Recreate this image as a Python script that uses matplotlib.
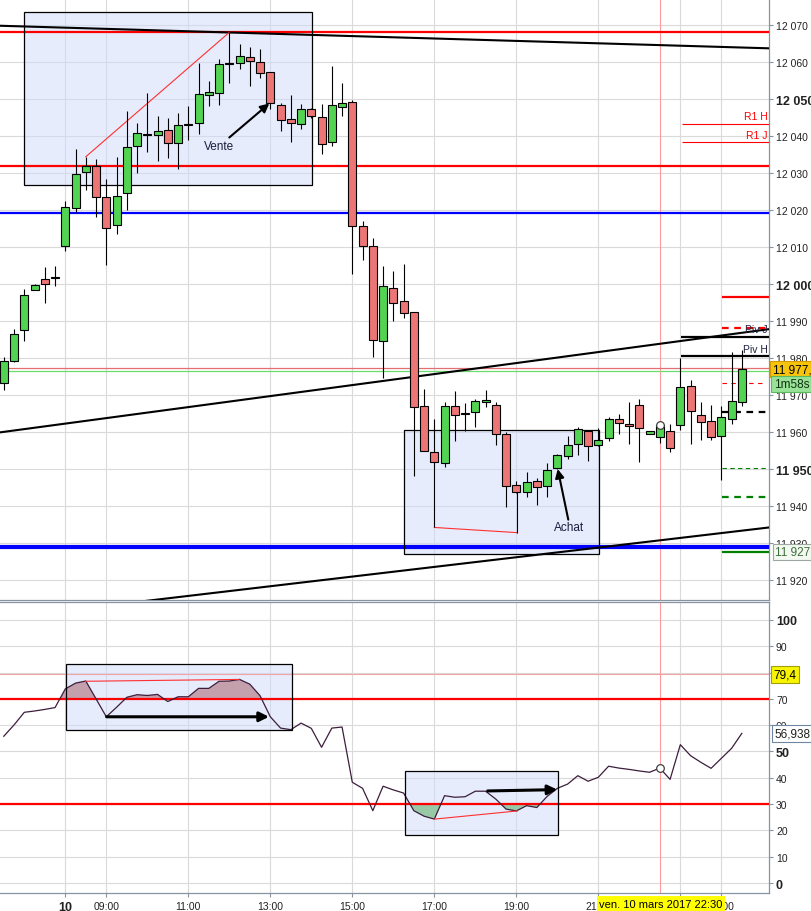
import matplotlib
matplotlib.use("Agg")
import matplotlib.pyplot as plt
import matplotlib.transforms as mtransforms
from matplotlib.patches import Rectangle
import numpy as np

plt.rcParams["font.family"] = ["Liberation Sans", "DejaVu Sans"]

# 15-minute DAX candles; bar index 0 = 08:00 on the 10th, first bar is 06:30
FIRST_BAR = -6
OPENS = [11973.2, 11979.3, 11987.6, 11998.5, 12001.4, 12001.6, 12010.4, 12020.5,
         12030.2, 12032.0, 12023.4, 12015.9, 12024.5, 12037.4, 12040.4, 12040.2,
         12041.5, 12038.2, 12043.1, 12043.4, 12051.0, 12051.5, 12059.4, 12059.6,
         12061.3, 12059.9, 12057.2, 12048.5, 12044.5, 12043.2, 12047.2, 12045.1,
         12038.3, 12047.9, 12049.1, 12015.8, 12010.4, 11984.5, 11998.8, 11995.3,
         11992.4, 11966.9, 11954.5, 11951.6, 11967.1, 11964.9, 11965.3, 11968.0,
         11967.4, 11959.5, 11945.8, 11943.9, 11946.7, 11945.3, 11950.2, 11953.4,
         11956.8, 11960.3, 11956.5, 11958.3, 11963.4, 11962.1, 11967.2, 11959.4,
         11958.6, 11960.4, 11962.0, 11972.4, 11964.5, 11962.9, 11958.8, 11963.5,
         11968.0]
HIGHS = [11980.3, 11987.8, 11998.6, 12000.0, 12004.7, 12004.9, 12022.5, 12036.5,
         12034.2, 12033.8, 12028.4, 12034.3, 12046.8, 12043.4, 12051.6, 12045.3,
         12044.9, 12046.1, 12048.0, 12059.7, 12054.9, 12060.7, 12068.0, 12064.9,
         12064.0, 12063.5, 12057.2, 12048.8, 12051.0, 12048.6, 12047.5, 12048.6,
         12058.8, 12054.2, 12049.6, 12017.0, 12012.4, 12005.0, 12003.5, 12005.4,
         11992.4, 11971.6, 11963.5, 11968.1, 11971.1, 11967.8, 11968.9, 11971.4,
         11968.2, 11960.0, 11946.8, 11949.3, 11947.6, 11951.6, 11954.1, 11959.0,
         11961.3, 11960.5, 11961.1, 11964.0, 11964.9, 11968.0, 11968.9, 11960.4,
         11962.6, 11962.2, 11980.0, 11974.1, 11968.0, 11967.3, 11967.1, 11981.5,
         11982.2]
LOWS = [11971.4, 11979.0, 11984.5, 11998.3, 11994.8, 11999.4, 12008.8, 12019.4,
        12025.5, 12018.2, 12005.2, 12013.6, 12020.1, 12030.1, 12035.7, 12033.3,
        12034.1, 12031.2, 12039.0, 12040.6, 12048.0, 12048.3, 12054.2, 12058.2,
        12053.6, 12055.6, 12047.3, 12041.4, 12038.5, 12042.0, 12045.0, 12035.1,
        12037.2, 12045.3, 12002.8, 12006.6, 11980.4, 11974.5, 11989.9, 11990.9,
        11948.2, 11954.8, 11951.5, 11950.5, 11957.6, 11960.4, 11961.3, 11966.7,
        11956.6, 11939.6, 11943.5, 11942.4, 11940.4, 11942.5, 11950.0, 11952.7,
        11953.9, 11952.2, 11956.3, 11957.6, 11959.5, 11956.8, 11952.0, 11959.4,
        11956.9, 11954.7, 11960.6, 11956.8, 11957.9, 11957.9, 11947.1, 11962.2,
        11966.9]
CLOSES = [11979.1, 11986.4, 11997.0, 11999.7, 11999.9, 12001.9, 12020.7, 12029.7,
          12032.0, 12023.4, 12015.1, 12023.7, 12036.9, 12040.7, 12040.6, 12041.3,
          12038.2, 12042.9, 12043.3, 12051.3, 12051.8, 12059.4, 12059.6, 12061.5,
          12060.2, 12057.0, 12048.8, 12044.2, 12043.4, 12047.2, 12045.3, 12037.8,
          12048.3, 12048.8, 12015.6, 12010.2, 11984.8, 11999.4, 11994.8, 11992.2,
          11966.7, 11954.8, 11951.8, 11967.1, 11964.6, 11965.1, 11968.5, 11968.6,
          11959.4, 11945.5, 11943.7, 11946.4, 11945.1, 11949.6, 11953.7, 11956.4,
          11960.9, 11956.1, 11957.9, 11963.4, 11962.4, 11961.5, 11961.0, 11960.4,
          11962.0, 11955.6, 11972.1, 11965.8, 11962.6, 11958.6, 11964.0, 11968.5,
          11977.0]
RSI = [55.8, 60.1, 64.9, 65.4, 66.0, 66.7, 73.8, 76.0, 76.8, 70.0, 63.2, 66.8,
       70.6, 71.6, 71.3, 71.7, 69.0, 70.8, 70.8, 74.0, 74.0, 76.7, 76.8, 77.4,
       75.6, 71.2, 63.2, 58.9, 58.3, 60.8, 58.8, 51.6, 58.9, 59.3, 38.3, 36.0,
       27.5, 36.8, 35.4, 34.2, 27.5, 25.4, 24.3, 33.2, 32.6, 32.8, 34.9, 34.9,
       31.9, 28.1, 27.4, 29.4, 28.7, 32.9, 36.0, 37.6, 40.8, 38.7, 40.2, 44.4,
       43.7, 43.2, 42.6, 42.1, 43.7, 39.4, 52.6, 48.4, 45.9, 43.6, 47.4, 51.2,
       56.9]

TIME_HOURS = [8, 9, 11, 13, 15, 17, 19, 21, 23, 24]
TIME_LABELS = ["10", "09:00", "11:00", "13:00", "15:00", "17:00", "19:00",
               "21:00", "23:00", "00:00"]
PRICE_TICKS = list(range(11920, 12071, 10))
BOLD_PRICES = [12050, 12000, 11950]
RSI_TICKS = list(range(0, 101, 10))
BOLD_RSI = [100, 50, 0]

# drawn levels and trendlines (price)
RED_LEVELS = [12068.1, 12032.0]
BLUE_LEVEL = 12019.3
BLUE_SUPPORT = 11929.0
BID_LEVEL, ASK_LEVEL = 11976.4, 11977.4
TOP_TREND = [(-6.37, 12069.8), (68.65, 12063.7)]
MID_TREND = [(-6.37, 11959.9), (68.65, 11987.8)]
LOW_TREND = [(-6.37, 11909.7), (68.65, 11934.2)]
CURSOR_BAR = 58
LAST_PRICE = 11977.0
RSI_LAST = 56.938
RSI_MARK = 79.4

W, H = 811, 912
GREEN, RED = "#52d452", "#ec7676"
GRID = "#dadada"
SPINE = "#8593a2"
XMIN, XMAX = -6.37, 68.65

fig = plt.figure(figsize=(W / 100, H / 100), dpi=100)
ax = fig.add_axes([0, 1 - 600.5 / H, 769 / W, 600.5 / H])
ax_rsi = fig.add_axes([0, 1 - 894 / H, 769 / W, (894 - 603) / H], sharex=ax)

x = np.arange(FIRST_BAR, FIRST_BAR + len(CLOSES))
o, hi, lo, c = (np.array(v) for v in (OPENS, HIGHS, LOWS, CLOSES))
rsi = np.array(RSI)
xticks = [(h - 8) * 4 for h in TIME_HOURS]

for a in (ax, ax_rsi):
    a.set_axisbelow(True)
    a.grid(True, color=GRID, lw=0.8)
    a.yaxis.tick_right()
    a.tick_params(axis="y", length=3, width=0.8, color=SPINE, pad=2,
                  labelsize=7.5, labelcolor="#222222")
    for s in ("left",):
        a.spines[s].set_visible(False)
    for s in ("right", "top", "bottom"):
        a.spines[s].set_color(SPINE)
        a.spines[s].set_linewidth(0.9)
ax.spines["top"].set_visible(False)

ax.set_xlim(XMIN, XMAX)
ax.set_xticks(xticks)
ax.tick_params(axis="x", labelbottom=False, length=0)
ax_rsi.set_xticks(xticks, TIME_LABELS)
ax_rsi.tick_params(axis="x", length=3, color=SPINE, pad=2.5, labelsize=7.5,
                   labelcolor="#222222")
for lab in ax_rsi.get_xticklabels():
    if lab.get_text() == "10":
        lab.set_fontweight("bold")
        lab.set_fontsize(9)

# ---------------- price pane ----------------
ax.set_ylim(11914.73, 12077.03)
ax.set_yticks(PRICE_TICKS, [f"{p:,}".replace(",", " ") for p in PRICE_TICKS])
for lab, p in zip(ax.get_yticklabels(), PRICE_TICKS):
    if p in BOLD_PRICES:
        lab.set_fontweight("bold")
        lab.set_fontsize(9)

box_kw = dict(facecolor="#cfdbfa", alpha=0.5, edgecolor="none", zorder=1)
for (x0, y0, x1, y1) in [(-4.0, 12026.8, 24.04, 12073.4), (33.07, 11926.9, 52.1, 11960.5)]:
    ax.add_patch(Rectangle((x0, y0), x1 - x0, y1 - y0, **box_kw))
    ax.add_patch(Rectangle((x0, y0), x1 - x0, y1 - y0, fill=False,
                           edgecolor="black", lw=0.9, zorder=6))

for lvl in RED_LEVELS:
    ax.axhline(lvl, color="#ff0000", lw=1.6, zorder=5)
ax.axhline(BLUE_LEVEL, color="#0000ff", lw=1.6, zorder=5)
ax.axhline(BLUE_SUPPORT, color="#0000ff", lw=3.0, zorder=5)
ax.axhline(ASK_LEVEL, color="#e07070", lw=0.9, zorder=5)
ax.axhline(BID_LEVEL, color="#6cdc6c", lw=0.9, zorder=5)
for line in (TOP_TREND, MID_TREND, LOW_TREND):
    (xa, ya), (xb, yb) = line
    ax.plot([xa, xb], [ya, yb], color="black", lw=1.5, zorder=5)

for a in (ax, ax_rsi):
    a.axvline(CURSOR_BAR, color="#ff9a9a", lw=0.8, zorder=2)

# candles
ax.vlines(x, lo, hi, color="black", lw=0.8, zorder=7)
body_lo = np.minimum(o, c)
body_h = np.maximum(np.abs(c - o), 0.25)
ax.bar(x, body_h, bottom=body_lo, width=0.78,
       color=np.where(c >= o, GREEN, RED), edgecolor="black", lw=0.8, zorder=8)

# pivot / resistance stubs at the right
ax.hlines(11996.6, 64.07, XMAX, color="#ff0000", lw=1.6, zorder=5)
ax.hlines(11988.1, 64.07, XMAX, color="#ff0000", lw=1.6, linestyles=(0, (3, 2.5)), zorder=5)
ax.hlines(11985.8, 60.07, XMAX, color="black", lw=1.6, zorder=5)
ax.hlines(11980.5, 60.07, XMAX, color="black", lw=1.6, zorder=5)
ax.hlines(11973.3, 64.07, 68.3, color="#ff0000", lw=0.8, linestyles=(0, (4, 4)), zorder=5)
ax.hlines(11965.5, 64.07, XMAX, color="black", lw=1.6, linestyles=(0, (3, 2.5)), zorder=5)
ax.hlines(11950.4, 64.07, XMAX, color="#008000", lw=0.8, linestyles=(0, (4, 3)), zorder=5)
ax.hlines(11942.5, 64.07, XMAX, color="#008000", lw=1.6, linestyles=(0, (3, 2.5)), zorder=5)
ax.hlines(11927.6, 64.07, XMAX, color="#008000", lw=1.6, zorder=5)
ax.hlines(12043.2, 60.17, XMAX, color="#ff0000", lw=0.8, zorder=5)
ax.hlines(12038.3, 60.17, XMAX, color="#ff0000", lw=0.8, zorder=5)
for txt, yv, col in [("R1 H", 12045.4, "#ff0000"), ("R1 J", 12040.4, "#ff0000"),
                     ("Piv J", 11987.9, "#202040"), ("Piv H", 11982.5, "#202040")]:
    ax.text(68.5, yv, txt, ha="right", va="center", fontsize=7.5, color=col, zorder=9)

# divergence annotations
ax.plot([2, 16], [12034.4, 12068.0], color="#ff3030", lw=0.8, zorder=6)
ax.plot([36, 44.1], [11934.2, 11932.8], color="#ff3030", lw=0.8, zorder=6)
ax.vlines([36, 44.1], [11934.2, 11932.8], [11951.8, 11943.7], color="black", lw=0.8, zorder=6)
arrow = dict(arrowstyle="-|>", color="black", lw=1.5, mutation_scale=13,
             shrinkA=0, shrinkB=0)
ax.annotate("", xy=(19.9, 12048.8), xytext=(16.0, 12039.6), arrowprops=arrow, zorder=9)
ax.annotate("", xy=(48.04, 11950.0), xytext=(49.07, 11936.3), arrowprops=arrow, zorder=9)
ax.text(15.0, 12037.4, "Vente", ha="center", va="center", fontsize=8.5, color="#1c1c3c", zorder=9)
ax.text(49.1, 11934.4, "Achat", ha="center", va="center", fontsize=8.5, color="#1c1c3c", zorder=9)
ax.plot([CURSOR_BAR], [c[CURSOR_BAR - FIRST_BAR]], "o", ms=5.5, mfc="white",
        mec="#404040", mew=0.9, zorder=10)

tr = mtransforms.blended_transform_factory(ax.transAxes, ax.transData)
ax.text(1.005, LAST_PRICE, f"{LAST_PRICE:,.0f},".replace(",", " ", 1), transform=tr,
        ha="left", va="center", fontsize=8.5, color="black", zorder=12, clip_on=False,
        bbox=dict(boxstyle="square,pad=0.2", fc="#f6c40c", ec="#d29a00", lw=0.8))
ax.text(1.006, 11973.0, "1m58s", transform=tr, ha="left", va="center", fontsize=8.5,
        color="#103010", zorder=12, clip_on=False,
        bbox=dict(boxstyle="square,pad=0.2", fc="#98e298", ec="#5cb85c", lw=0.8))
ax.text(1.008, 11927.6, "11 927,", transform=tr, ha="left", va="center", fontsize=8.5,
        color="#3a6e3a", zorder=12, clip_on=False,
        bbox=dict(boxstyle="square,pad=0.2", fc="#f3f8f0", ec="#9aa8a0", lw=0.8))

# ---------------- RSI pane ----------------
ax_rsi.set_ylim(-3.8, 106.84)
ax_rsi.set_yticks(RSI_TICKS)
for lab, v in zip(ax_rsi.get_yticklabels(), RSI_TICKS):
    if v in BOLD_RSI:
        lab.set_fontweight("bold")
        lab.set_fontsize(9)

for (x0, y0, x1, y1) in [(0.04, 58.1, 22.1, 83.2), (33.1, 18.1, 48.1, 42.5)]:
    ax_rsi.add_patch(Rectangle((x0, y0), x1 - x0, y1 - y0, **box_kw))
    ax_rsi.add_patch(Rectangle((x0, y0), x1 - x0, y1 - y0, fill=False,
                               edgecolor="black", lw=0.9, zorder=6))
ax_rsi.fill_between(x, rsi, 70, where=(rsi > 70) & (x <= 21), interpolate=True,
                    color="#c4a0ad", lw=0, zorder=2)
ax_rsi.fill_between(x, rsi, 30, where=(rsi < 30) & (x >= 33) & (x <= 48),
                    interpolate=True, color="#98c8a6", lw=0, zorder=2)
ax_rsi.axhline(70, color="#ff0000", lw=1.6, zorder=4)
ax_rsi.axhline(30, color="#ff0000", lw=1.6, zorder=4)
ax_rsi.axhline(RSI_MARK, color="#f4a4a4", lw=0.8, zorder=3)
ax_rsi.plot(x, rsi, color="#3c1e3c", lw=0.9, zorder=5)
ax_rsi.plot([1.96, 16.95], [76.7, 77.4], color="#ff3030", lw=0.8, zorder=6)
ax_rsi.plot([36.03, 44.1], [24.3, 27.4], color="#ff3030", lw=0.8, zorder=6)
thick = dict(arrowstyle="-|>", color="black", lw=2.2, mutation_scale=14,
             shrinkA=0, shrinkB=0)
ax_rsi.annotate("", xy=(19.87, 63.2), xytext=(4.03, 63.2), arrowprops=thick, zorder=9)
ax_rsi.annotate("", xy=(48.0, 35.5), xytext=(41.2, 35.0), arrowprops=thick, zorder=9)
ax_rsi.plot([CURSOR_BAR], [rsi[CURSOR_BAR - FIRST_BAR]], "o", ms=5.5, mfc="white",
            mec="#404040", mew=0.9, zorder=10)

tr2 = mtransforms.blended_transform_factory(ax_rsi.transAxes, ax_rsi.transData)
ax_rsi.text(1.006, RSI_MARK, f"{RSI_MARK}".replace(".", ","), transform=tr2,
            ha="left", va="center", fontsize=8.5, color="black", zorder=12, clip_on=False,
            bbox=dict(boxstyle="square,pad=0.2", fc="#f8f400", ec="#a0a000", lw=0.8))
ax_rsi.text(1.007, RSI_LAST, f"{RSI_LAST}".replace(".", ","), transform=tr2,
            ha="left", va="center", fontsize=8.5, color="#202020", zorder=12, clip_on=False,
            bbox=dict(boxstyle="square,pad=0.2", fc="white", ec="#6d87a3", lw=0.8))

fig.text(661 / W, 1 - 905 / H, "ven. 10 mars 2017 22:30", ha="center", va="center",
         fontsize=8, color="black", zorder=20,
         bbox=dict(boxstyle="square,pad=0.25", fc="#ffff00", ec="none"))

fig.savefig("out.png", dpi=100)
